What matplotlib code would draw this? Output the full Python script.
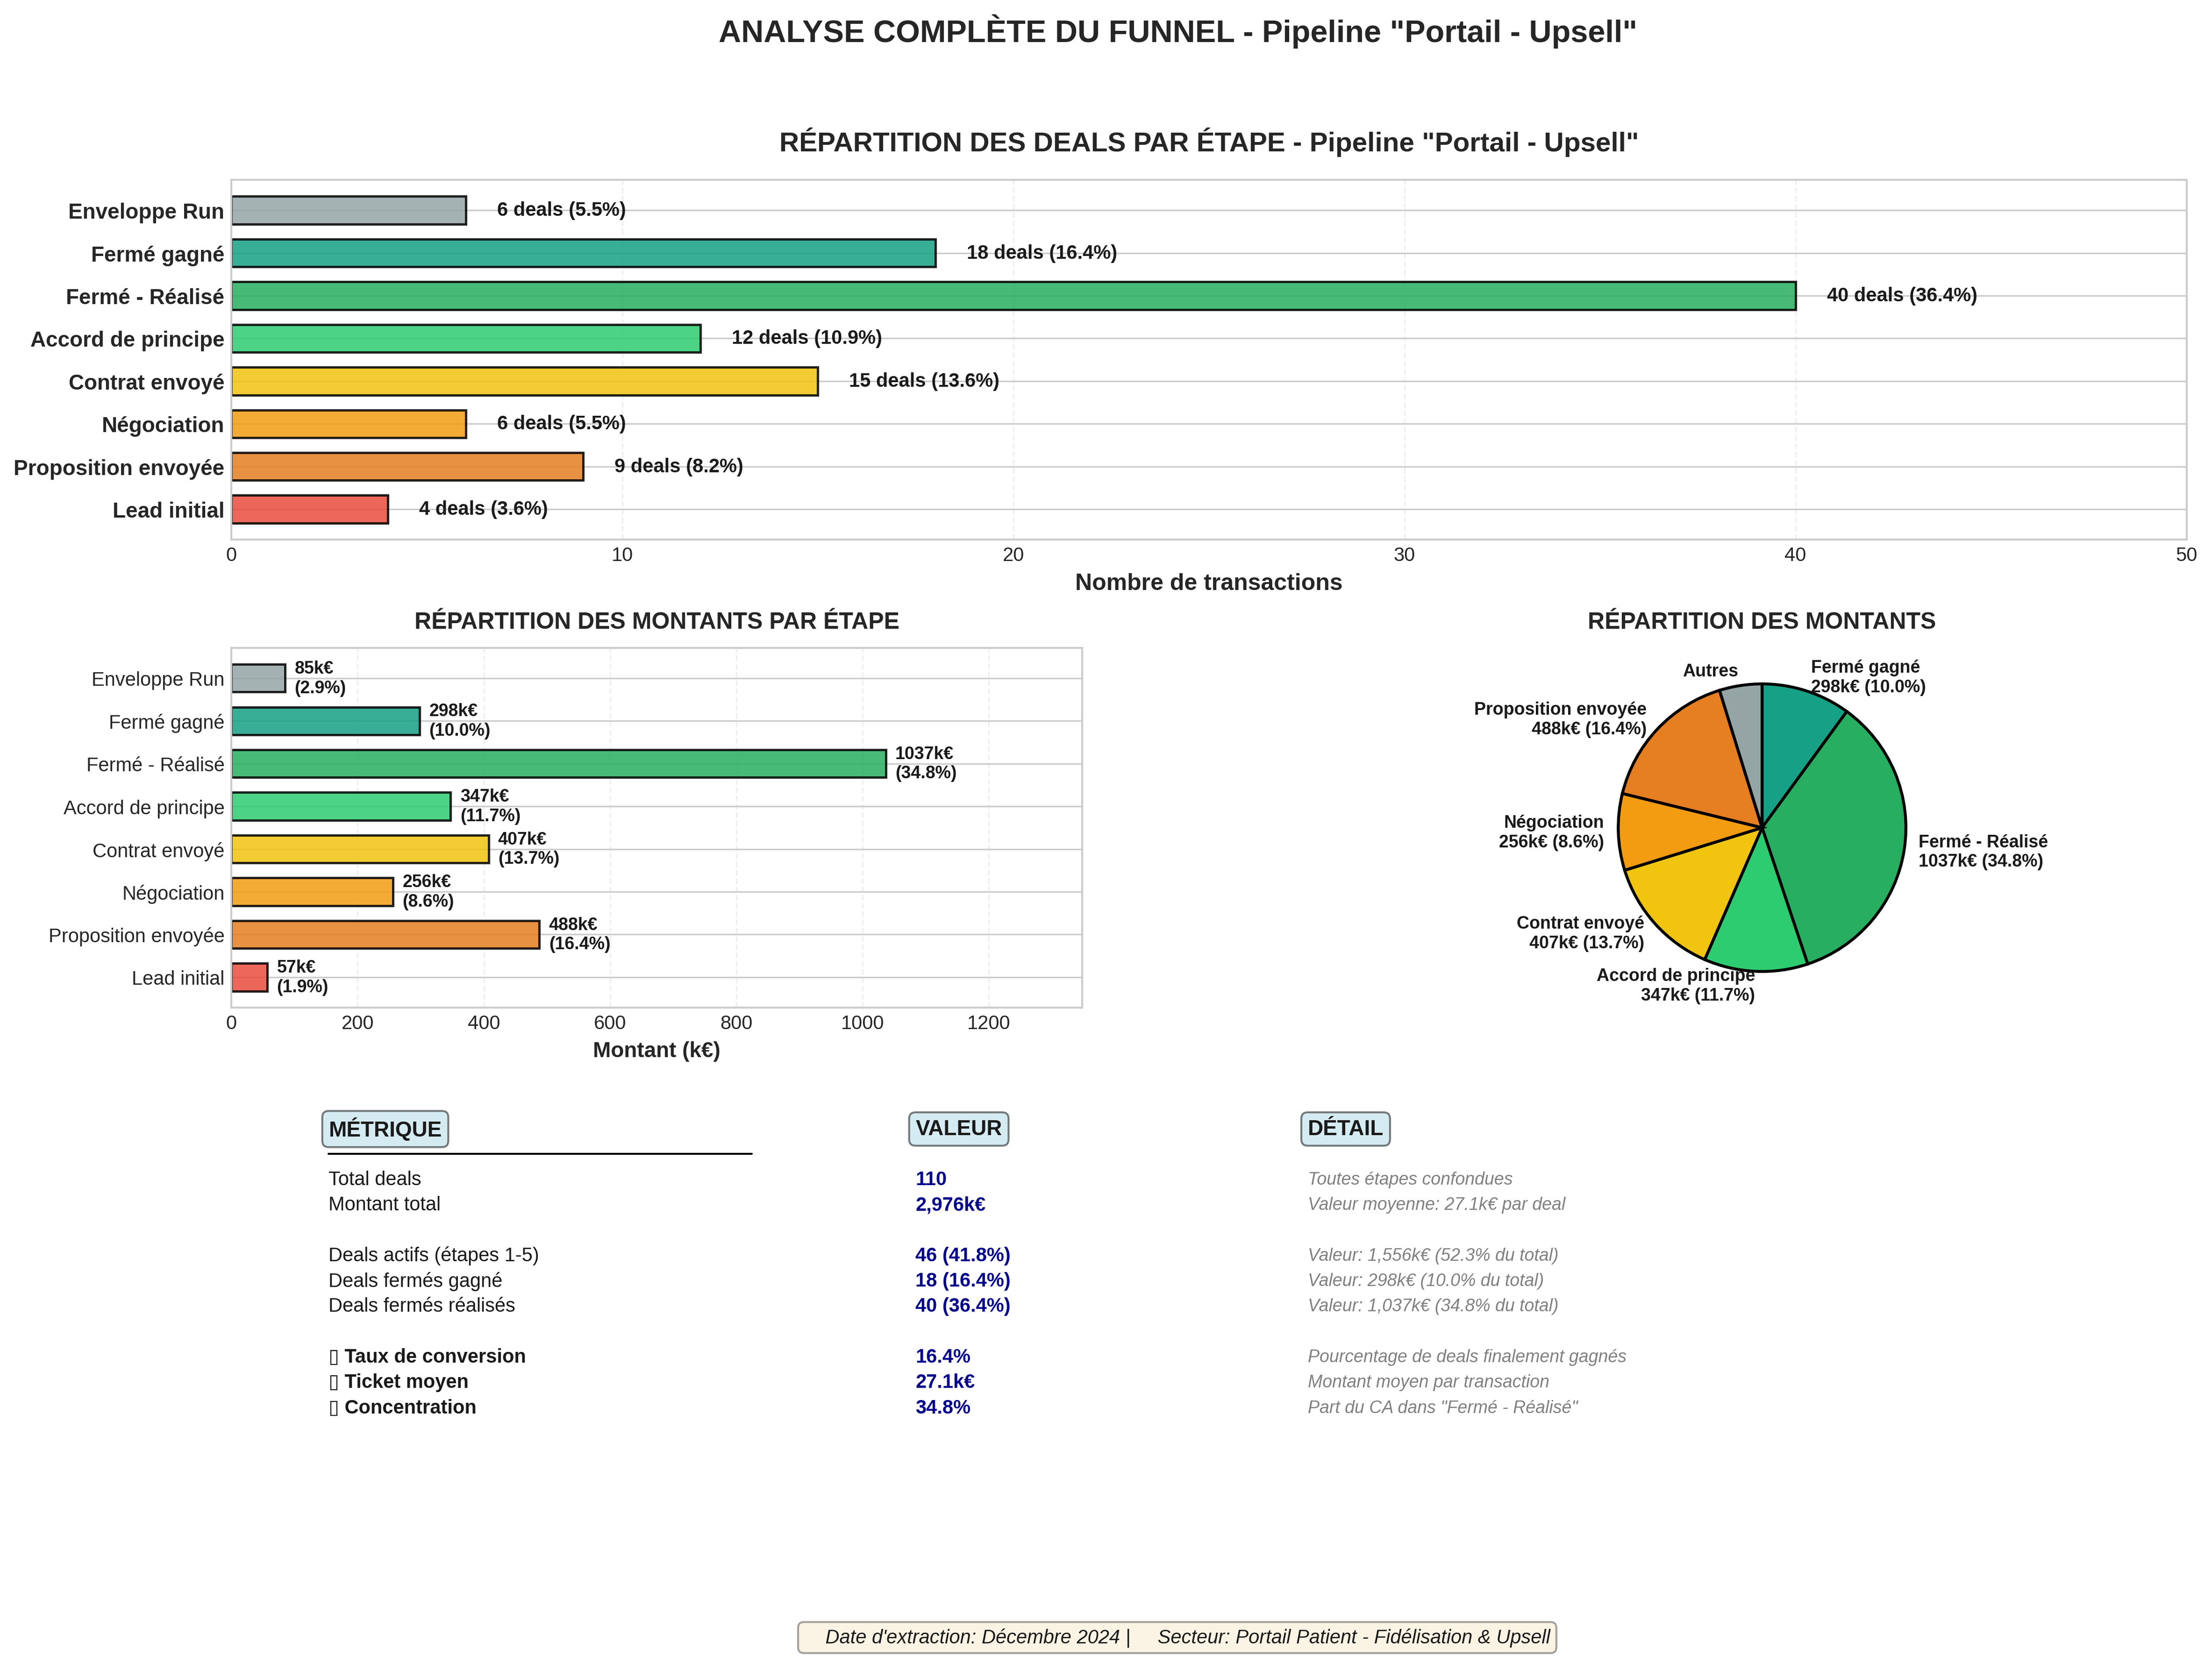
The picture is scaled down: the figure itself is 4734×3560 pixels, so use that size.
import matplotlib.pyplot as plt
from matplotlib.lines import Line2D

plt.style.use('seaborn-v0_8-whitegrid')
plt.rcParams['font.family'] = ['Liberation Sans', 'DejaVu Sans']

# stages, from first to last (bottom to top on the bar charts)
stages = ['Lead initial', 'Proposition envoyée', 'Négociation', 'Contrat envoyé',
          'Accord de principe', 'Fermé - Réalisé', 'Fermé gagné', 'Enveloppe Run']
deal_counts = [4, 9, 6, 15, 12, 40, 18, 6]
amounts_k = [57, 488, 256, 407.4, 347.3, 1036.7, 298.2, 85.2]
stage_colors = ['#e74c3c', '#e67e22', '#f39c12', '#f1c40f',
                '#2ecc71', '#27ae60', '#16a085', '#95a5a6']

# pie: stages shown on their own, the two small ones grouped in "Autres"
pie_order = [6, 5, 4, 3, 2, 1]
pie_other = [0, 7]

total_deals = sum(deal_counts)
total_amount = sum(amounts_k)

fig = plt.figure(figsize=(15.78, 11.87), dpi=300)

fig.text(0.5325, 0.981, 'ANALYSE COMPLÈTE DU FUNNEL - Pipeline "Portail - Upsell"',
         ha='center', va='center', fontsize=16, fontweight='bold', color='.15')

# ---- deals per stage
ax1 = fig.add_axes([0.1046, 0.6754, 0.8839, 0.2161])
y = range(len(stages))
ax1.barh(y, deal_counts, height=0.65, color=stage_colors, alpha=0.85,
         edgecolor='black', linewidth=1.2)
for i, c in enumerate(deal_counts):
    ax1.text(c + 0.8, i, '%d deals (%.1f%%)' % (c, c / total_deals * 100),
             va='center', fontsize=10, fontweight='bold', color='.1')
ax1.set_yticks(list(y))
ax1.set_yticklabels(stages, fontsize=11, fontweight='bold')
ax1.set_xlim(0, max(deal_counts) * 1.25)
ax1.tick_params(axis='x', labelsize=10)
ax1.set_xlabel('Nombre de transactions', fontsize=12, fontweight='bold')
ax1.set_title('RÉPARTITION DES DEALS PAR ÉTAPE - Pipeline "Portail - Upsell"',
              fontsize=14, fontweight='bold', pad=15)
ax1.grid(axis='x', linestyle='--', alpha=0.3)

# ---- amounts per stage
ax2 = fig.add_axes([0.1046, 0.3941, 0.3846, 0.2161])
ax2.barh(y, amounts_k, height=0.65, color=stage_colors, alpha=0.85,
         edgecolor='black', linewidth=1.2)
for i, a in enumerate(amounts_k):
    ax2.text(a + 15, i, '%.0fk€\n(%.1f%%)' % (a, a / total_amount * 100),
             va='center', fontsize=9, fontweight='bold', color='.1')
ax2.set_yticks(list(y))
ax2.set_yticklabels(stages, fontsize=10)
ax2.set_xlim(0, max(amounts_k) * 1.3)
ax2.tick_params(axis='x', labelsize=10)
ax2.set_xlabel('Montant (k€)', fontsize=11, fontweight='bold')
ax2.set_title('RÉPARTITION DES MONTANTS PAR ÉTAPE', fontsize=12, fontweight='bold', pad=10)
ax2.grid(axis='x', linestyle='--', alpha=0.3)

# ---- pie
ax3 = fig.add_axes([0.6466, 0.3941, 0.3, 0.2161])
pie_vals = [amounts_k[i] for i in pie_order] + [sum(amounts_k[i] for i in pie_other)]
pie_cols = [stage_colors[i] for i in pie_order] + ['#95a5a6']
pie_labels = ['%s\n%.0fk€ (%.1f%%)' % (stages[i], amounts_k[i], amounts_k[i] / total_amount * 100)
              for i in pie_order] + ['Autres']
ax3.pie(pie_vals, labels=pie_labels, colors=pie_cols, startangle=90, counterclock=False,
        wedgeprops=dict(edgecolor='black', linewidth=1.5),
        textprops=dict(fontsize=9, fontweight='bold', color='.1'))
ax3.set_title('RÉPARTITION DES MONTANTS', fontsize=12, fontweight='bold', pad=10)

# ---- summary table
avg_deal = total_amount / total_deals
active = sum(deal_counts[:5])
active_amt = sum(amounts_k[:5])
won, won_amt = deal_counts[6], amounts_k[6]
real, real_amt = deal_counts[5], amounts_k[5]

rows = [
    ('Total deals', '%d' % total_deals, 'Toutes étapes confondues', False),
    ('Montant total', '{:,.0f}k€'.format(total_amount),
     'Valeur moyenne: %.1fk€ par deal' % avg_deal, False),
    None,
    ('Deals actifs (étapes 1-5)', '%d (%.1f%%)' % (active, active / total_deals * 100),
     'Valeur: {:,.0f}k€ ({:.1f}% du total)'.format(active_amt, active_amt / total_amount * 100), False),
    ('Deals fermés gagné', '%d (%.1f%%)' % (won, won / total_deals * 100),
     'Valeur: {:,.0f}k€ ({:.1f}% du total)'.format(won_amt, won_amt / total_amount * 100), False),
    ('Deals fermés réalisés', '%d (%.1f%%)' % (real, real / total_deals * 100),
     'Valeur: {:,.0f}k€ ({:.1f}% du total)'.format(real_amt, real_amt / total_amount * 100), False),
    None,
    ('▯ Taux de conversion', '%.1f%%' % (won / total_deals * 100),
     'Pourcentage de deals finalement gagnés', True),
    ('▯ Ticket moyen', '%.1fk€' % avg_deal, 'Montant moyen par transaction', True),
    ('▯ Concentration', '%.1f%%' % (real_amt / total_amount * 100),
     'Part du CA dans "Fermé - Réalisé"', True),
]

col_x = [0.1486, 0.4139, 0.5912]
head_box = dict(boxstyle='round,pad=0.3', facecolor='lightblue', alpha=0.5)
for x, h in zip(col_x, ['MÉTRIQUE', 'VALEUR', 'DÉTAIL']):
    fig.text(x, 0.321, h, ha='left', va='center', fontsize=11, fontweight='bold',
             color='.1', bbox=head_box)
fig.add_artist(Line2D([0.1486, 0.3399], [0.306, 0.306], color='black', linewidth=1))

row_y = 0.2907
for r in rows:
    if r is not None:
        metric, val, detail, bold = r
        fig.text(col_x[0], row_y, metric, ha='left', va='center', fontsize=10,
                 fontweight='bold' if bold else 'normal', color='.1',
                 family=['Liberation Sans', 'DejaVu Sans'])
        fig.text(col_x[1], row_y, val, ha='left', va='center', fontsize=10,
                 fontweight='bold', color='darkblue')
        fig.text(col_x[2], row_y, detail, ha='left', va='center', fontsize=9,
                 style='italic', color='gray')
    row_y -= 0.01525

fig.text(0.5322, 0.0153,
         "    Date d'extraction: Décembre 2024 |     Secteur: Portail Patient - Fidélisation & Upsell",
         ha='center', va='center', fontsize=10, style='italic', color='.1',
         bbox=dict(boxstyle='round,pad=0.3', facecolor='wheat', alpha=0.35))

fig.savefig('out.png', dpi=300)
